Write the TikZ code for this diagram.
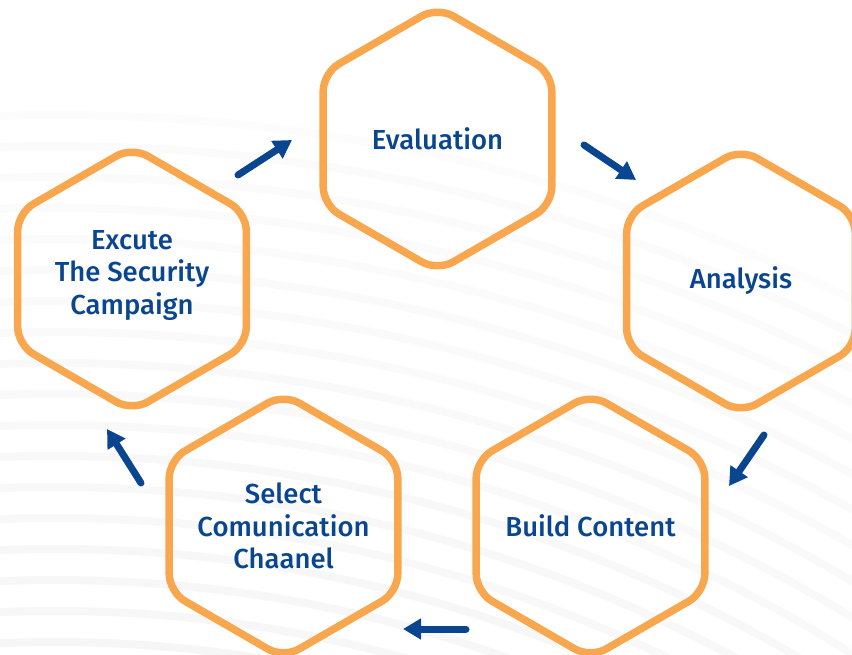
\documentclass[tikz,border=0pt]{standalone}
\usepackage{fontspec}
\setmainfont{Fira Sans}[BoldFont={Fira Sans Medium}]
\usetikzlibrary{arrows.meta,shapes.geometric}
\definecolor{hexorange}{HTML}{F9A74E}
\definecolor{darkblue}{HTML}{0A4590}

\begin{document}
\begin{tikzpicture}[x=1pt,y=-1pt,>={Triangle[length=18pt,width=20pt]},
		hex node/.style={regular polygon,regular polygon sides=6,shape border rotate=30,
			minimum size=264pt,inner sep=0pt,draw=hexorange,line width=7.5pt,
			rounded corners=18pt},
		hex text/.style={text=darkblue,align=center,inner sep=0pt,
			font=\bfseries\fontsize{27.5}{32.5}\selectfont},
		flow/.style={->,draw=darkblue,line width=7pt,line cap=round}]
		
		\useasboundingbox (0,0) rectangle (852,655);
		
		% faint stripes behind
		\begin{scope}
			\clip (0,0) rectangle (852,655);
			\foreach \i in {0,...,18}{
				\pgfmathsetmacro\shade{2.5+0.25*\i}
				\draw[line width=8pt,gray!\shade] (55,1927) circle[radius=1812-31*\i];
			}
		\end{scope}
		
		\node[hex node] (eval) at (437.5,139) {};
		\node[hex node] (anal) at (741,281) {};
		\node[hex node] (build) at (590.5,526) {};
		\node[hex node] (select) at (283.5,526) {};
		\node[hex node] (exec) at (132,279) {};
		
		\node[hex text] (eval-t) at (eval) {Evaluation};
		\node[hex text] (anal-t) at (anal) {Analysis};
		\node[hex text] (build-t) at (build) {Build Content};
		\node[hex text] (select-t) at (select) {Select\\Comunication\\Chaanel};
		\node[hex text] (exec-t) at ([yshift=4pt]exec) {Excute\\The Security\\Campaign};
		
		\coordinate (e1) at (238,175);
		\coordinate (e2) at (292,140);
		\coordinate (a1) at (584,145);
		\coordinate (a2) at (636,180);
		\coordinate (b1) at (764,435);
		\coordinate (b2) at (729,486);
		\coordinate (c1) at (466,629);
		\coordinate (c2) at (403,629);
		\coordinate (s1) at (141,483);
		\coordinate (s2) at (107,429);
		
		\draw[flow] (e1) -- (e2);
		\draw[flow] (a1) -- (a2);
		\draw[flow] (b1) -- (b2);
		\draw[flow] (c1) -- (c2);
		\draw[flow] (s1) -- (s2);
		
\end{tikzpicture}
\end{document}
